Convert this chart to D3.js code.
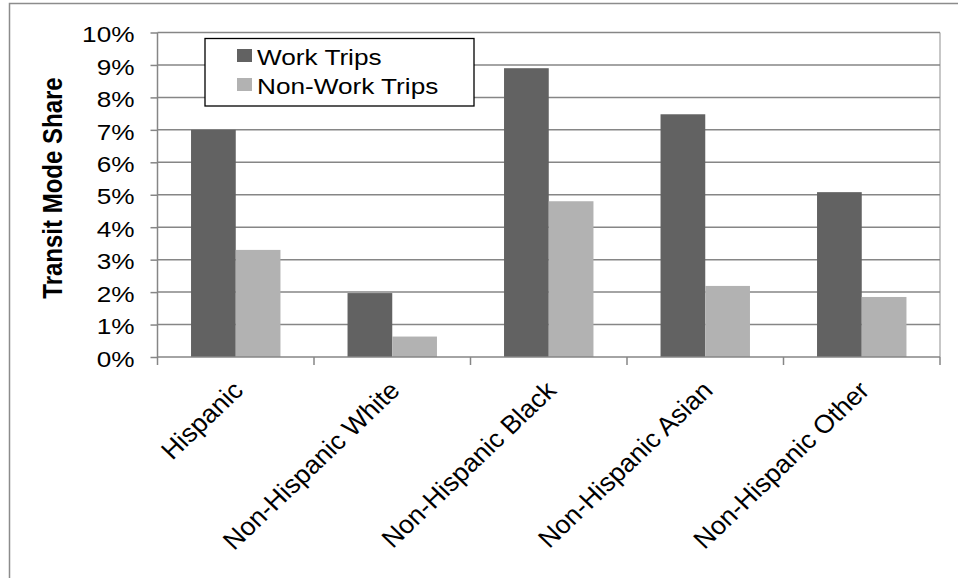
<!DOCTYPE html>
<html><head><meta charset="utf-8">
<script src="https://cdn.jsdelivr.net/npm/d3@7"></script>
<style>body{margin:0;background:#fff}svg{display:block}text{font-family:"Liberation Sans",Arial,sans-serif}</style>
</head><body>
<svg id="c" width="958" height="578"></svg>
<script>
const categories = ["Hispanic","Non-Hispanic White","Non-Hispanic Black","Non-Hispanic Asian","Non-Hispanic Other"];
const seriesNames = ["Work Trips","Non-Work Trips"];
const workTrips = [7.0, 1.97, 8.9, 7.48, 5.08];
const nonWorkTrips = [3.3, 0.63, 4.8, 2.19, 1.85];
const yTicks = [0,1,2,3,4,5,6,7,8,9,10];
const colors = ["#626262","#b2b2b2"];

const SX = 1.19; // horizontal text stretch
const FS = 22;
const svg = d3.select("#c");
const L = 157.5, R = 940, T = 32.5, B = 357;
// outer frame
svg.append("path").attr("d","M9.5,578 V3.5 H958").attr("fill","none").attr("stroke","#8c8c8c").attr("stroke-width",1.5);

const x = d3.scaleBand().domain(categories).range([L,R]).paddingInner(0).paddingOuter(0);
const x1 = d3.scaleBand().domain(seriesNames).range([0,x.bandwidth()]).paddingInner(0).paddingOuter(0.75);
const y = d3.scaleLinear().domain([0,10]).range([B,T]);

// plot border (right)
svg.append("line").attr("x1",R).attr("x2",R).attr("y1",T).attr("y2",B).attr("stroke","#b4b4b4").attr("stroke-width",1.5);
// gridlines
svg.append("g").selectAll("line").data(yTicks.filter(d=>d>0)).join("line")
  .attr("x1",L).attr("x2",R).attr("y1",d=>y(d)).attr("y2",d=>y(d))
  .attr("stroke","#868686").attr("stroke-width",1.5);

// bars
const data = categories.map((c,i)=>({c, v:[workTrips[i], nonWorkTrips[i]]}));
const g = svg.append("g");
data.forEach(d=>{
  seriesNames.forEach((s,j)=>{
    g.append("rect").attr("x",x(d.c)+x1(s)).attr("width",x1.bandwidth())
      .attr("y",y(d.v[j])).attr("height",y(0)-y(d.v[j])).attr("fill",colors[j]);
  });
});

// y axis
const ya = svg.append("g").attr("transform",`translate(${L},0)`)
  .call(d3.axisLeft(y).tickValues(yTicks).tickFormat(d=>d+"%").tickSize(7).tickPadding(23));
ya.select(".domain").attr("stroke","#868686").attr("stroke-width",1.5).attr("d",`M0,${T}V${B}`);
ya.selectAll(".tick line").attr("stroke","#868686").attr("stroke-width",1.5);
ya.selectAll(".tick text").attr("font-size",FS).attr("fill","#000")
  .attr("font-family","Liberation Sans, Arial, sans-serif")
  .attr("x",-23/SX).attr("dy","0.42em").attr("transform",`scale(${SX},1)`);

// x axis
const xa = svg.append("g").attr("transform",`translate(0,${B})`)
  .call(d3.axisBottom(x).tickSize(0).tickFormat(""));
xa.select(".domain").attr("stroke","#868686").attr("stroke-width",1.5).attr("d",`M${L},0H${R}`);
const edges = categories.map(c=>x(c)).concat([R]);
xa.selectAll(".edge").data(edges).join("line").attr("class","edge")
  .attr("x1",d=>d).attr("x2",d=>d).attr("y1",0).attr("y2",8).attr("stroke","#868686").attr("stroke-width",1.5);
svg.append("g").selectAll("text").data(categories).join("text")
  .attr("transform",d=>`translate(${x(d)+x.bandwidth()/2+9},${B+35}) scale(1.05,1) rotate(-45)`)
  .attr("text-anchor","end").attr("font-size",25.5).attr("fill","#000").text(d=>d);

// y title
svg.append("text").attr("transform",`translate(62,188) scale(1.17,1) rotate(-90)`)
  .attr("text-anchor","middle").attr("font-size",24).attr("font-weight","bold").text("Transit Mode Share");

// legend
const lg = svg.append("g");
lg.append("rect").attr("x",205).attr("y",38.5).attr("width",269).attr("height",67.5).attr("fill","#fff").attr("stroke","#000").attr("stroke-width",1.3);
seriesNames.forEach((s,j)=>{
  lg.append("rect").attr("x",237).attr("y",49+j*29).attr("width",15).attr("height",13).attr("fill",colors[j]);
  lg.append("text").attr("transform",`translate(257,${64.5+j*29}) scale(${SX},1)`).attr("font-size",FS).attr("fill","#000").text(s);
});
</script>
</body></html>
